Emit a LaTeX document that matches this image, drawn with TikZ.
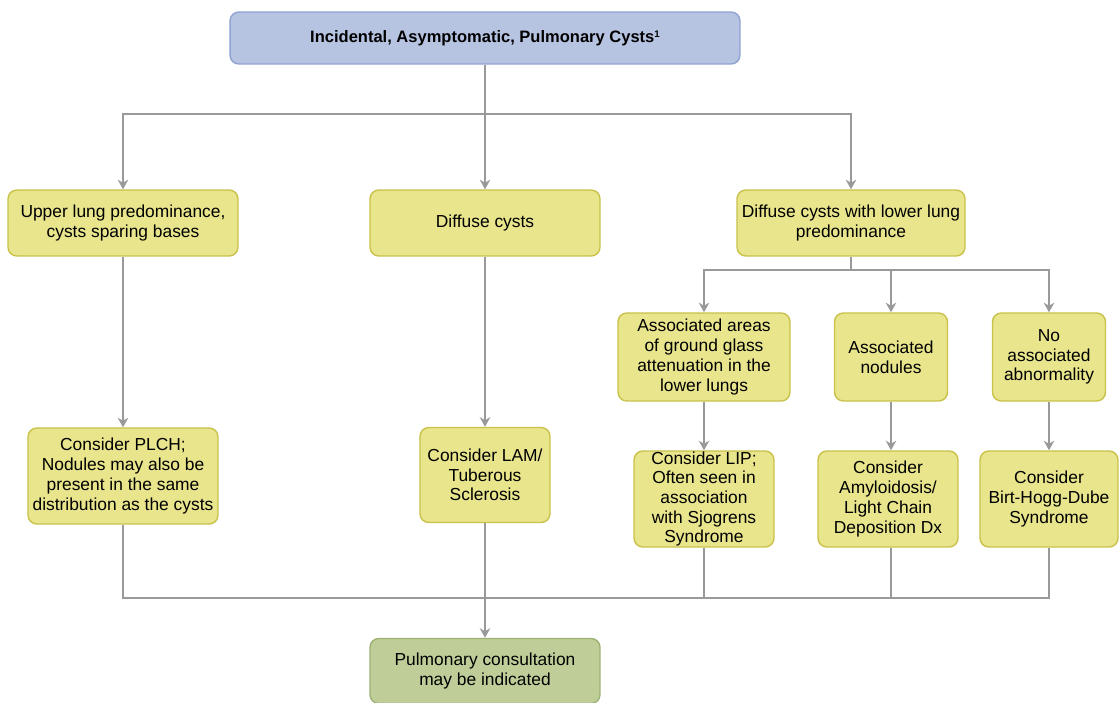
\documentclass[tikz,border=0pt]{standalone}
\usepackage{fontspec}
\setmainfont{Liberation Sans}
\usetikzlibrary{arrows.meta}
\definecolor{boxblue}{HTML}{B6C3E1}
\definecolor{edgeblue}{HTML}{8FA3D0}
\definecolor{boxyellow}{HTML}{E8E58C}
\definecolor{edgeyellow}{HTML}{C8C14A}
\definecolor{boxgreen}{HTML}{BFCE99}
\definecolor{edgegreen}{HTML}{9CB273}
\definecolor{linegray}{HTML}{999999}

\begin{document}
\begin{tikzpicture}[x=0.02cm,y=-0.02cm,
    every node/.style={font=\fontsize{9.9}{11.2}\selectfont, align=center, inner sep=0pt},
    topbox/.style={draw=edgeblue, fill=boxblue, line width=0.8pt, rounded corners=5pt,
      minimum width=10.2cm, minimum height=1.04cm, font=\fontsize{9.4}{11}\selectfont\bfseries},
    ybox/.style={draw=edgeyellow, fill=boxyellow, line width=0.8pt, rounded corners=5pt},
    gbox/.style={draw=edgegreen, fill=boxgreen, line width=0.8pt, rounded corners=5pt,
      minimum width=4.6cm, minimum height=1.3cm},
    link/.style={draw=linegray, line width=1.3pt},
    arr/.style={link, -{Stealth[length=5.5pt,width=6pt,inset=1.8pt]}}]
  \useasboundingbox (0,0) rectangle (1119,703);

  % top
  \node[topbox] at (485,38) (top) {Incidental, Asymptomatic, Pulmonary Cysts{\fontsize{5.5}{6}\selectfont\raisebox{0.9ex}{1}}};

  % first level
  \node[ybox, minimum width=4.6cm, minimum height=1.32cm] at (123,223) (upper)
    {Upper lung predominance,\\cysts sparing bases};
  \node[ybox, minimum width=4.6cm, minimum height=1.32cm] at (485,223) (diffuse)
    {Diffuse cysts};
  \node[ybox, minimum width=4.56cm, minimum height=1.32cm] at (851,223) (lower)
    {Diffuse cysts with lower lung\\predominance};

  % second level (right)
  \node[ybox, minimum width=3.44cm, minimum height=1.76cm] at (704,357) (ggo)
    {Associated areas\\of ground glass\\attenuation in the\\lower lungs};
  \node[ybox, minimum width=2.26cm, minimum height=1.76cm] at (891,357) (nod)
    {Associated\\nodules};
  \node[ybox, minimum width=2.26cm, minimum height=1.76cm] at (1049,357) (noabn)
    {No\\associated\\abnormality};

  % considerations
  \node[ybox, minimum width=3.8cm, minimum height=1.92cm] at (123,476) (plch)
    {Consider PLCH;\\Nodules may also be\\present in the same\\distribution as the cysts};
  \node[ybox, minimum width=2.6cm, minimum height=1.9cm] at (485,475) (lam)
    {Consider LAM/\\Tuberous\\Sclerosis};
  \node[ybox, minimum width=2.8cm, minimum height=1.92cm] at (704,499) (lip)
    {Consider LIP;\\Often seen in\\association\\with Sjogrens\\Syndrome};
  \node[ybox, minimum width=2.8cm, minimum height=1.92cm] at (888,499) (amy)
    {Consider\\Amyloidosis/\\Light Chain\\Deposition Dx};
  \node[ybox, minimum width=2.76cm, minimum height=1.92cm] at (1049,499) (bhd)
    {Consider\\Birt-Hogg-Dube\\Syndrome};

  % outcome
  \node[gbox] at (485,671) (consult) {Pulmonary consultation\\may be indicated};

  \coordinate (split) at (485,114);
  \coordinate (split2) at (851,270);
  \coordinate (join) at (485,598);

  \draw[link] (top) -- (split);
  \draw[arr] (split) -| (upper);
  \draw[arr] (split) -- (diffuse);
  \draw[arr] (split) -| (lower);

  \draw[link] (lower) -- (split2);
  \draw[arr] (split2) -| (ggo);
  \draw[arr] (split2) -| (nod.north);
  \draw[arr] (split2) -| (noabn);

  \draw[arr] (upper) -- (plch);
  \draw[arr] (diffuse) -- (lam);
  \draw[arr] (ggo) -- (lip);
  \draw[arr] (nod.south) -- (nod.south |- amy.north);
  \draw[arr] (noabn) -- (bhd);

  \draw[link] (plch) |- (join);
  \draw[link] (lip) |- (join);
  \draw[link] (amy.south -| nod.south) |- (join);
  \draw[link] (bhd) |- (join);
  \draw[arr] (lam) -- (consult);
\end{tikzpicture}
\end{document}
